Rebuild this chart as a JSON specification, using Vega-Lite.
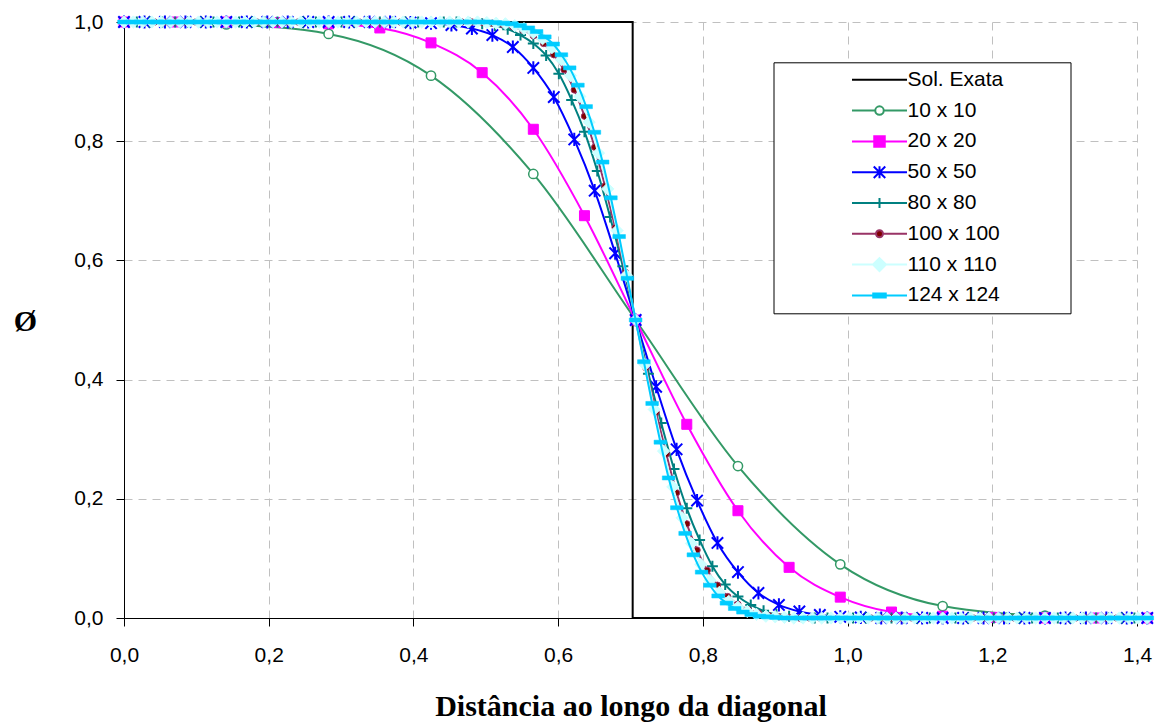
{
"$schema":"https://vega.github.io/schema/vega-lite/v6.json",
"width":1013,"height":596,
"autosize":"none",
"padding":{"left":124,"top":22,"right":30,"bottom":104},
"background":"white",
"config":{"view":{"stroke":null},"font":"Liberation Sans"},
"datasets":{
"exact":[{"x":0,"y":1},{"x":0.703,"y":1},{"x":0.703,"y":0},{"x":1.4142,"y":0}],
"s10":[{"x":0,"y":1},{"x":0.1414,"y":0.996},{"x":0.2828,"y":0.98},{"x":0.4243,"y":0.91},{"x":0.5657,"y":0.745},{"x":0.7071,"y":0.5},{"x":0.8485,"y":0.255},{"x":0.9899,"y":0.09},{"x":1.1314,"y":0.02},{"x":1.2728,"y":0.004},{"x":1.4142,"y":0}],
"s20":[{"x":0,"y":1},{"x":0.0707,"y":1},{"x":0.1414,"y":1},{"x":0.2121,"y":0.999},{"x":0.2828,"y":0.997},{"x":0.3536,"y":0.99},{"x":0.4243,"y":0.965},{"x":0.495,"y":0.915},{"x":0.5657,"y":0.82},{"x":0.6364,"y":0.675},{"x":0.7071,"y":0.5},{"x":0.7778,"y":0.325},{"x":0.8485,"y":0.18},{"x":0.9192,"y":0.085},{"x":0.9899,"y":0.035},{"x":1.0607,"y":0.01},{"x":1.1314,"y":0.003},{"x":1.2021,"y":0.001},{"x":1.2728,"y":0},{"x":1.3435,"y":0},{"x":1.4142,"y":0}],
"s50":[{"x":0,"y":1},{"x":0.0283,"y":1},{"x":0.0566,"y":1},{"x":0.0849,"y":1},{"x":0.1131,"y":1},{"x":0.1414,"y":1},{"x":0.1697,"y":1},{"x":0.198,"y":1},{"x":0.2263,"y":1},{"x":0.2546,"y":1},{"x":0.2828,"y":1},{"x":0.3111,"y":1},{"x":0.3394,"y":1},{"x":0.3677,"y":1},{"x":0.396,"y":0.999},{"x":0.4243,"y":0.998},{"x":0.4525,"y":0.995},{"x":0.4808,"y":0.989},{"x":0.5091,"y":0.978},{"x":0.5374,"y":0.958},{"x":0.5657,"y":0.923},{"x":0.594,"y":0.874},{"x":0.6223,"y":0.803},{"x":0.6505,"y":0.717},{"x":0.6788,"y":0.612},{"x":0.7071,"y":0.5},{"x":0.7354,"y":0.388},{"x":0.7637,"y":0.283},{"x":0.792,"y":0.197},{"x":0.8202,"y":0.126},{"x":0.8485,"y":0.077},{"x":0.8768,"y":0.042},{"x":0.9051,"y":0.022},{"x":0.9334,"y":0.011},{"x":0.9617,"y":0.005},{"x":0.9899,"y":0.002},{"x":1.0182,"y":0.001},{"x":1.0465,"y":0},{"x":1.0748,"y":0},{"x":1.1031,"y":0},{"x":1.1314,"y":0},{"x":1.1597,"y":0},{"x":1.1879,"y":0},{"x":1.2162,"y":0},{"x":1.2445,"y":0},{"x":1.2728,"y":0},{"x":1.3011,"y":0},{"x":1.3294,"y":0},{"x":1.3576,"y":0},{"x":1.3859,"y":0},{"x":1.4142,"y":0}],
"s80":[{"x":0,"y":1},{"x":0.0177,"y":1},{"x":0.0354,"y":1},{"x":0.053,"y":1},{"x":0.0707,"y":1},{"x":0.0884,"y":1},{"x":0.1061,"y":1},{"x":0.1237,"y":1},{"x":0.1414,"y":1},{"x":0.1591,"y":1},{"x":0.1768,"y":1},{"x":0.1945,"y":1},{"x":0.2121,"y":1},{"x":0.2298,"y":1},{"x":0.2475,"y":1},{"x":0.2652,"y":1},{"x":0.2828,"y":1},{"x":0.3005,"y":1},{"x":0.3182,"y":1},{"x":0.3359,"y":1},{"x":0.3536,"y":1},{"x":0.3712,"y":1},{"x":0.3889,"y":1},{"x":0.4066,"y":1},{"x":0.4243,"y":1},{"x":0.4419,"y":1},{"x":0.4596,"y":1},{"x":0.4773,"y":0.999},{"x":0.495,"y":0.997},{"x":0.5127,"y":0.994},{"x":0.5303,"y":0.988},{"x":0.548,"y":0.978},{"x":0.5657,"y":0.964},{"x":0.5834,"y":0.944},{"x":0.601,"y":0.913},{"x":0.6187,"y":0.869},{"x":0.6364,"y":0.816},{"x":0.6541,"y":0.75},{"x":0.6718,"y":0.673},{"x":0.6894,"y":0.59},{"x":0.7071,"y":0.5},{"x":0.7248,"y":0.41},{"x":0.7425,"y":0.327},{"x":0.7601,"y":0.25},{"x":0.7778,"y":0.184},{"x":0.7955,"y":0.131},{"x":0.8132,"y":0.087},{"x":0.8309,"y":0.056},{"x":0.8485,"y":0.036},{"x":0.8662,"y":0.022},{"x":0.8839,"y":0.012},{"x":0.9016,"y":0.006},{"x":0.9192,"y":0.003},{"x":0.9369,"y":0.001},{"x":0.9546,"y":0},{"x":0.9723,"y":0},{"x":0.9899,"y":0},{"x":1.0076,"y":0},{"x":1.0253,"y":0},{"x":1.043,"y":0},{"x":1.0607,"y":0},{"x":1.0783,"y":0},{"x":1.096,"y":0},{"x":1.1137,"y":0},{"x":1.1314,"y":0},{"x":1.149,"y":0},{"x":1.1667,"y":0},{"x":1.1844,"y":0},{"x":1.2021,"y":0},{"x":1.2198,"y":0},{"x":1.2374,"y":0},{"x":1.2551,"y":0},{"x":1.2728,"y":0},{"x":1.2905,"y":0},{"x":1.3081,"y":0},{"x":1.3258,"y":0},{"x":1.3435,"y":0},{"x":1.3612,"y":0},{"x":1.3789,"y":0},{"x":1.3965,"y":0},{"x":1.4142,"y":0}],
"s100":[{"x":0,"y":1},{"x":0.0141,"y":1},{"x":0.0283,"y":1},{"x":0.0424,"y":1},{"x":0.0566,"y":1},{"x":0.0707,"y":1},{"x":0.0849,"y":1},{"x":0.099,"y":1},{"x":0.1131,"y":1},{"x":0.1273,"y":1},{"x":0.1414,"y":1},{"x":0.1556,"y":1},{"x":0.1697,"y":1},{"x":0.1838,"y":1},{"x":0.198,"y":1},{"x":0.2121,"y":1},{"x":0.2263,"y":1},{"x":0.2404,"y":1},{"x":0.2546,"y":1},{"x":0.2687,"y":1},{"x":0.2828,"y":1},{"x":0.297,"y":1},{"x":0.3111,"y":1},{"x":0.3253,"y":1},{"x":0.3394,"y":1},{"x":0.3536,"y":1},{"x":0.3677,"y":1},{"x":0.3818,"y":1},{"x":0.396,"y":1},{"x":0.4101,"y":1},{"x":0.4243,"y":1},{"x":0.4384,"y":1},{"x":0.4525,"y":1},{"x":0.4667,"y":1},{"x":0.4808,"y":1},{"x":0.495,"y":0.999},{"x":0.5091,"y":0.998},{"x":0.5233,"y":0.996},{"x":0.5374,"y":0.992},{"x":0.5515,"y":0.986},{"x":0.5657,"y":0.977},{"x":0.5798,"y":0.964},{"x":0.594,"y":0.945},{"x":0.6081,"y":0.92},{"x":0.6223,"y":0.886},{"x":0.6364,"y":0.842},{"x":0.6505,"y":0.79},{"x":0.6647,"y":0.725},{"x":0.6788,"y":0.655},{"x":0.693,"y":0.58},{"x":0.7071,"y":0.5},{"x":0.7212,"y":0.42},{"x":0.7354,"y":0.345},{"x":0.7495,"y":0.275},{"x":0.7637,"y":0.21},{"x":0.7778,"y":0.158},{"x":0.792,"y":0.114},{"x":0.8061,"y":0.08},{"x":0.8202,"y":0.055},{"x":0.8344,"y":0.036},{"x":0.8485,"y":0.023},{"x":0.8627,"y":0.014},{"x":0.8768,"y":0.008},{"x":0.891,"y":0.004},{"x":0.9051,"y":0.002},{"x":0.9192,"y":0.001},{"x":0.9334,"y":0},{"x":0.9475,"y":0},{"x":0.9617,"y":0},{"x":0.9758,"y":0},{"x":0.9899,"y":0},{"x":1.0041,"y":0},{"x":1.0182,"y":0},{"x":1.0324,"y":0},{"x":1.0465,"y":0},{"x":1.0607,"y":0},{"x":1.0748,"y":0},{"x":1.0889,"y":0},{"x":1.1031,"y":0},{"x":1.1172,"y":0},{"x":1.1314,"y":0},{"x":1.1455,"y":0},{"x":1.1597,"y":0},{"x":1.1738,"y":0},{"x":1.1879,"y":0},{"x":1.2021,"y":0},{"x":1.2162,"y":0},{"x":1.2304,"y":0},{"x":1.2445,"y":0},{"x":1.2587,"y":0},{"x":1.2728,"y":0},{"x":1.2869,"y":0},{"x":1.3011,"y":0},{"x":1.3152,"y":0},{"x":1.3294,"y":0},{"x":1.3435,"y":0},{"x":1.3576,"y":0},{"x":1.3718,"y":0},{"x":1.3859,"y":0},{"x":1.4001,"y":0},{"x":1.4142,"y":0}],
"s110":[{"x":0,"y":1},{"x":0.0129,"y":1},{"x":0.0257,"y":1},{"x":0.0386,"y":1},{"x":0.0514,"y":1},{"x":0.0643,"y":1},{"x":0.0771,"y":1},{"x":0.09,"y":1},{"x":0.1029,"y":1},{"x":0.1157,"y":1},{"x":0.1286,"y":1},{"x":0.1414,"y":1},{"x":0.1543,"y":1},{"x":0.1671,"y":1},{"x":0.18,"y":1},{"x":0.1928,"y":1},{"x":0.2057,"y":1},{"x":0.2186,"y":1},{"x":0.2314,"y":1},{"x":0.2443,"y":1},{"x":0.2571,"y":1},{"x":0.27,"y":1},{"x":0.2828,"y":1},{"x":0.2957,"y":1},{"x":0.3086,"y":1},{"x":0.3214,"y":1},{"x":0.3343,"y":1},{"x":0.3471,"y":1},{"x":0.36,"y":1},{"x":0.3728,"y":1},{"x":0.3857,"y":1},{"x":0.3986,"y":1},{"x":0.4114,"y":1},{"x":0.4243,"y":1},{"x":0.4371,"y":1},{"x":0.45,"y":1},{"x":0.4628,"y":1},{"x":0.4757,"y":1},{"x":0.4885,"y":1},{"x":0.5014,"y":0.999},{"x":0.5143,"y":0.998},{"x":0.5271,"y":0.997},{"x":0.54,"y":0.994},{"x":0.5528,"y":0.989},{"x":0.5657,"y":0.982},{"x":0.5785,"y":0.972},{"x":0.5914,"y":0.957},{"x":0.6043,"y":0.937},{"x":0.6171,"y":0.91},{"x":0.63,"y":0.875},{"x":0.6428,"y":0.832},{"x":0.6557,"y":0.78},{"x":0.6685,"y":0.72},{"x":0.6814,"y":0.65},{"x":0.6943,"y":0.575},{"x":0.7071,"y":0.5},{"x":0.72,"y":0.425},{"x":0.7328,"y":0.35},{"x":0.7457,"y":0.28},{"x":0.7585,"y":0.22},{"x":0.7714,"y":0.168},{"x":0.7842,"y":0.125},{"x":0.7971,"y":0.09},{"x":0.81,"y":0.063},{"x":0.8228,"y":0.043},{"x":0.8357,"y":0.028},{"x":0.8485,"y":0.018},{"x":0.8614,"y":0.011},{"x":0.8742,"y":0.006},{"x":0.8871,"y":0.003},{"x":0.9,"y":0.002},{"x":0.9128,"y":0.001},{"x":0.9257,"y":0},{"x":0.9385,"y":0},{"x":0.9514,"y":0},{"x":0.9642,"y":0},{"x":0.9771,"y":0},{"x":0.99,"y":0},{"x":1.0028,"y":0},{"x":1.0157,"y":0},{"x":1.0285,"y":0},{"x":1.0414,"y":0},{"x":1.0542,"y":0},{"x":1.0671,"y":0},{"x":1.0799,"y":0},{"x":1.0928,"y":0},{"x":1.1057,"y":0},{"x":1.1185,"y":0},{"x":1.1314,"y":0},{"x":1.1442,"y":0},{"x":1.1571,"y":0},{"x":1.1699,"y":0},{"x":1.1828,"y":0},{"x":1.1956,"y":0},{"x":1.2085,"y":0},{"x":1.2214,"y":0},{"x":1.2342,"y":0},{"x":1.2471,"y":0},{"x":1.2599,"y":0},{"x":1.2728,"y":0},{"x":1.2856,"y":0},{"x":1.2985,"y":0},{"x":1.3113,"y":0},{"x":1.3242,"y":0},{"x":1.3371,"y":0},{"x":1.3499,"y":0},{"x":1.3628,"y":0},{"x":1.3756,"y":0},{"x":1.3885,"y":0},{"x":1.4013,"y":0},{"x":1.4142,"y":0}],
"s124":[{"x":0,"y":1},{"x":0.0114,"y":1},{"x":0.0228,"y":1},{"x":0.0342,"y":1},{"x":0.0456,"y":1},{"x":0.057,"y":1},{"x":0.0684,"y":1},{"x":0.0798,"y":1},{"x":0.0912,"y":1},{"x":0.1026,"y":1},{"x":0.114,"y":1},{"x":0.1255,"y":1},{"x":0.1369,"y":1},{"x":0.1483,"y":1},{"x":0.1597,"y":1},{"x":0.1711,"y":1},{"x":0.1825,"y":1},{"x":0.1939,"y":1},{"x":0.2053,"y":1},{"x":0.2167,"y":1},{"x":0.2281,"y":1},{"x":0.2395,"y":1},{"x":0.2509,"y":1},{"x":0.2623,"y":1},{"x":0.2737,"y":1},{"x":0.2851,"y":1},{"x":0.2965,"y":1},{"x":0.3079,"y":1},{"x":0.3193,"y":1},{"x":0.3307,"y":1},{"x":0.3421,"y":1},{"x":0.3536,"y":1},{"x":0.365,"y":1},{"x":0.3764,"y":1},{"x":0.3878,"y":1},{"x":0.3992,"y":1},{"x":0.4106,"y":1},{"x":0.422,"y":1},{"x":0.4334,"y":1},{"x":0.4448,"y":1},{"x":0.4562,"y":1},{"x":0.4676,"y":1},{"x":0.479,"y":1},{"x":0.4904,"y":1},{"x":0.5018,"y":1},{"x":0.5132,"y":0.999},{"x":0.5246,"y":0.998},{"x":0.536,"y":0.997},{"x":0.5474,"y":0.994},{"x":0.5588,"y":0.99},{"x":0.5702,"y":0.984},{"x":0.5816,"y":0.975},{"x":0.5931,"y":0.963},{"x":0.6045,"y":0.945},{"x":0.6159,"y":0.923},{"x":0.6273,"y":0.894},{"x":0.6387,"y":0.858},{"x":0.6501,"y":0.815},{"x":0.6615,"y":0.765},{"x":0.6729,"y":0.705},{"x":0.6843,"y":0.64},{"x":0.6957,"y":0.57},{"x":0.7071,"y":0.5},{"x":0.7185,"y":0.43},{"x":0.7299,"y":0.36},{"x":0.7413,"y":0.295},{"x":0.7527,"y":0.235},{"x":0.7641,"y":0.185},{"x":0.7755,"y":0.142},{"x":0.7869,"y":0.106},{"x":0.7983,"y":0.077},{"x":0.8097,"y":0.055},{"x":0.8211,"y":0.037},{"x":0.8326,"y":0.025},{"x":0.844,"y":0.016},{"x":0.8554,"y":0.01},{"x":0.8668,"y":0.006},{"x":0.8782,"y":0.003},{"x":0.8896,"y":0.002},{"x":0.901,"y":0.001},{"x":0.9124,"y":0},{"x":0.9238,"y":0},{"x":0.9352,"y":0},{"x":0.9466,"y":0},{"x":0.958,"y":0},{"x":0.9694,"y":0},{"x":0.9808,"y":0},{"x":0.9922,"y":0},{"x":1.0036,"y":0},{"x":1.015,"y":0},{"x":1.0264,"y":0},{"x":1.0378,"y":0},{"x":1.0492,"y":0},{"x":1.0606,"y":0},{"x":1.072,"y":0},{"x":1.0834,"y":0},{"x":1.0948,"y":0},{"x":1.1062,"y":0},{"x":1.1176,"y":0},{"x":1.129,"y":0},{"x":1.1405,"y":0},{"x":1.1519,"y":0},{"x":1.1633,"y":0},{"x":1.1747,"y":0},{"x":1.1861,"y":0},{"x":1.1975,"y":0},{"x":1.2089,"y":0},{"x":1.2203,"y":0},{"x":1.2317,"y":0},{"x":1.2431,"y":0},{"x":1.2545,"y":0},{"x":1.2659,"y":0},{"x":1.2773,"y":0},{"x":1.2887,"y":0},{"x":1.3001,"y":0},{"x":1.3115,"y":0},{"x":1.3229,"y":0},{"x":1.3343,"y":0},{"x":1.3457,"y":0},{"x":1.3571,"y":0},{"x":1.3685,"y":0},{"x":1.3799,"y":0},{"x":1.3913,"y":0},{"x":1.4027,"y":0},{"x":1.4142,"y":0}],
"legend":[{"s":"Sol. Exata"},{"s":"10 x 10"},{"s":"20 x 20"},{"s":"50 x 50"},{"s":"80 x 80"},{"s":"100 x 100"},{"s":"110 x 110"},{"s":"124 x 124"}]
},
"encoding":{
"x":{"field":"x","type":"quantitative","scale":{"domain":[0,1.4],"nice":false,"zero":false},
 "axis":{"values":[0,0.2,0.4,0.6,0.8,1,1.2,1.4],"labelExpr":"replace(format(datum.value,'.1f'),'.',',')","title":"Distância ao longo da diagonal","grid":true,"gridDash":[8,6],"gridColor":"#c0c0c0","gridWidth":1,"domainColor":"black","domainWidth":1,"tickColor":"black","tickSize":8,"labelPadding":18,"labelFont":"Liberation Sans","labelFontSize":21,"labelColor":"black","labelFlush":false,"labelOverlap":false,"titleFont":"Liberation Serif","titleFontSize":30,"titleFontWeight":"bold","titleColor":"black","titleBaseline":"alphabetic","titleY":97}},
"y":{"field":"y","type":"quantitative","scale":{"domain":[0,1],"nice":false,"zero":false},
 "axis":{"values":[0,0.2,0.4,0.6,0.8,1],"labelExpr":"replace(format(datum.value,'.1f'),'.',',')","title":"Ø","grid":true,"gridDash":[8,6],"gridColor":"#c0c0c0","gridWidth":1,"domainColor":"black","domainWidth":1,"tickColor":"black","tickSize":8,"labelPadding":13,"labelFont":"Liberation Sans","labelFontSize":21,"labelColor":"black","labelFlush":false,"labelOverlap":false,"titleFont":"Liberation Serif","titleFontSize":30,"titleFontWeight":"bold","titleColor":"black","titleAngle":0,"titleAlign":"center","titleBaseline":"middle","titleX":-99,"titleY":299}}
},
"layer":[
{"data":{"name":"exact"},"mark":{"type":"line","color":"black","strokeWidth":2},"encoding":{"order":{"value":null}}},
{"data":{"name":"s10"},"mark":{"type":"line","color":"#339966","strokeWidth":2,"interpolate":"monotone"}},
{"data":{"name":"s10"},"mark":{"type":"point","shape":"circle","size":86,"filled":true,"fill":"white","stroke":"#339966","strokeWidth":1.5,"opacity":1}},
{"data":{"name":"s20"},"mark":{"type":"line","color":"#ff00ff","strokeWidth":2,"interpolate":"monotone"}},
{"data":{"name":"s20"},"mark":{"type":"point","shape":"square","size":100,"filled":true,"fill":"#ff00ff","stroke":"#ff00ff","strokeWidth":1,"opacity":1}},
{"data":{"name":"s50"},"mark":{"type":"line","color":"#0000ff","strokeWidth":2,"interpolate":"monotone"}},
{"data":{"name":"s50"},"mark":{"type":"point","shape":"M-1,-1L1,1M-1,1L1,-1M0,-1.15L0,1.15","size":130,"filled":false,"stroke":"#0000ff","strokeWidth":2,"opacity":1}},
{"data":{"name":"s80"},"mark":{"type":"line","color":"#008080","strokeWidth":2,"interpolate":"monotone"}},
{"data":{"name":"s80"},"mark":{"type":"point","shape":"M-1,0L1,0M0,-1L0,1","size":121,"filled":false,"stroke":"#008080","strokeWidth":2,"opacity":1}},
{"data":{"name":"s100"},"mark":{"type":"line","color":"#993366","strokeWidth":2,"interpolate":"monotone"}},
{"data":{"name":"s100"},"mark":{"type":"point","shape":"circle","size":40,"filled":true,"fill":"#800000","stroke":"#993366","strokeWidth":1,"opacity":1}},
{"data":{"name":"s110"},"mark":{"type":"line","color":"#ccffff","strokeWidth":2,"interpolate":"monotone"}},
{"data":{"name":"s110"},"mark":{"type":"point","shape":"diamond","size":150,"filled":true,"fill":"#ccffff","stroke":"#ccffff","strokeWidth":1,"opacity":1}},
{"data":{"name":"s124"},"mark":{"type":"line","color":"#00ccff","strokeWidth":2,"interpolate":"monotone"}},
{"data":{"name":"s124"},"mark":{"type":"point","shape":"M-1,-0.32L1,-0.32L1,0.32L-1,0.32Z","size":160,"filled":true,"fill":"#00ccff","stroke":"#00ccff","strokeWidth":0.5,"opacity":1}},
{"data":{"name":"legend"},"transform":[{"filter":"datum.s == 'none'"}],
 "mark":{"type":"point","filled":true,"opacity":1,"strokeWidth":2},
 "encoding":{
  "shape":{"field":"s","type":"nominal","scale":{"domain":["Sol. Exata","10 x 10","20 x 20","50 x 50","80 x 80","100 x 100","110 x 110","124 x 124"],"range":["M35.9,0M-5.5,0L5.5,0","M35.9,0M-5.5,0L-0.85,0M0.85,0L5.5,0M-0.85,0A0.85,0.85,0,1,0,0.85,0A0.85,0.85,0,1,0,-0.85,0Z","M35.9,0M-5.5,0L5.5,0M-1.05,-1.05L1.05,-1.05L1.05,1.05L-1.05,1.05Z","M35.9,0M-5.5,0L5.5,0M-1.15,-1.15L1.15,1.15M-1.15,1.15L1.15,-1.15M0,-1.2L0,1.2","M35.9,0M-5.5,0L5.5,0M0,-1L0,1","M35.9,0M-5.5,0L-0.7,0M0.7,0L5.5,0M-0.7,0A0.7,0.7,0,1,0,0.7,0A0.7,0.7,0,1,0,-0.7,0Z","M35.9,0M-5.5,0L5.5,0M0,-1.3L1.3,0L0,1.3L-1.3,0Z","M35.9,0M-5.5,0L5.5,0M-1.25,-0.4L1.25,-0.4L1.25,0.4L-1.25,0.4Z"]},
   "legend":{"title":null,"orient":"none","legendX":649.5,"legendY":40.3,"padding":7,"strokeColor":"black","fillColor":"white","symbolOffset":88.5,"labelOffset":17.5,"rowPadding":8.8,"labelFont":"Liberation Sans","labelFontSize":21,"labelColor":"black","labelLimit":400,"symbolSize":100,"symbolStrokeWidth":2,
    "encode":{"symbols":{"update":{"fill":{"scale":"fill","field":"value"},"stroke":{"scale":"stroke","field":"value"},"opacity":{"value":1},"strokeWidth":{"value":2}}}}}},
  "stroke":{"field":"s","type":"nominal","scale":{"domain":["Sol. Exata","10 x 10","20 x 20","50 x 50","80 x 80","100 x 100","110 x 110","124 x 124"],"range":["#000000","#339966","#ff00ff","#0000ff","#008080","#993366","#ccffff","#00ccff"]},
   "legend":{"title":null,"orient":"none","legendX":649.5,"legendY":40.3,"padding":7,"strokeColor":"black","fillColor":"white","symbolOffset":88.5,"labelOffset":17.5,"rowPadding":8.8,"labelFont":"Liberation Sans","labelFontSize":21,"labelColor":"black","labelLimit":400,"symbolSize":100,"symbolStrokeWidth":2,
    "encode":{"symbols":{"update":{"fill":{"scale":"fill","field":"value"},"stroke":{"scale":"stroke","field":"value"},"opacity":{"value":1},"strokeWidth":{"value":2}}}}}},
  "fill":{"field":"s","type":"nominal","scale":{"domain":["Sol. Exata","10 x 10","20 x 20","50 x 50","80 x 80","100 x 100","110 x 110","124 x 124"],"range":["#000000","#ffffff","#ff00ff","#0000ff","#008080","#800000","#ccffff","#00ccff"]},
   "legend":{"title":null,"orient":"none","legendX":649.5,"legendY":40.3,"padding":7,"strokeColor":"black","fillColor":"white","symbolOffset":88.5,"labelOffset":17.5,"rowPadding":8.8,"labelFont":"Liberation Sans","labelFontSize":21,"labelColor":"black","labelLimit":400,"symbolSize":100,"symbolStrokeWidth":2,
    "encode":{"symbols":{"update":{"fill":{"scale":"fill","field":"value"},"stroke":{"scale":"stroke","field":"value"},"opacity":{"value":1},"strokeWidth":{"value":2}}}}}}
 }}
]
}
